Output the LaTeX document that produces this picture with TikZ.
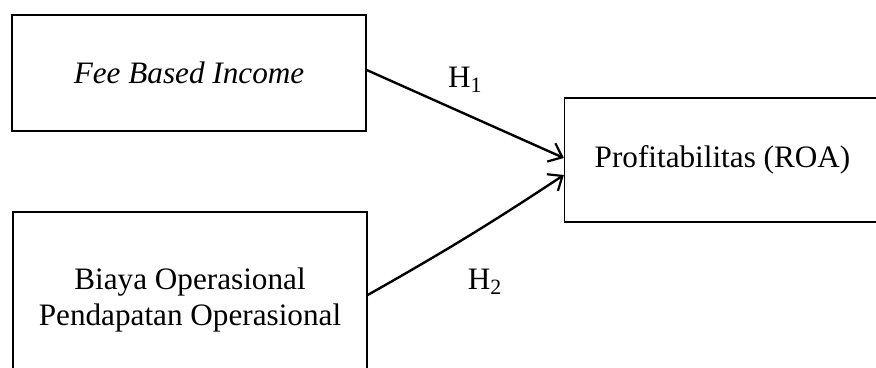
\documentclass[tikz,border=0pt]{standalone}
\usepackage{fontspec}
\setmainfont{Liberation Serif}
\usetikzlibrary{arrows.meta}
\tikzstyle{varbox} = [rectangle, draw=black, line width=0.65pt, text centered, inner sep=0pt, font=\fontsize{15.6}{18}\selectfont]
\tikzstyle{arrow} = [line width=1.2pt, -{Straight Barb[length=6pt, width=10pt, line width=1.1pt]}]
\tikzstyle{hyp} = [font=\fontsize{15.6}{18}\selectfont, inner sep=0pt]

\begin{document}
\begin{tikzpicture}[x=0.5pt, y=-0.5pt]
            \useasboundingbox (0,0) rectangle (876,368);
            \clip (0,0) rectangle (876,368);
            \node (fbi) [varbox, minimum width=177pt, minimum height=58pt] at (189,73) {\textit{Fee Based Income}};
            \node (bopo) [varbox, align=center, minimum width=177pt, minimum height=88pt] at (190,300) {Biaya Operasional\\Pendapatan Operasional};
            \node (roa) [varbox, minimum width=158pt, minimum height=62pt] at (722.5,160) {Profitabilitas (ROA)};

            \draw [arrow] ([yshift=1.5pt]fbi.east) -- node[hyp, yshift=17pt] {H\textsubscript{1}} ([yshift=1pt]roa.west);
            \draw [arrow] ([yshift=2.5pt]bopo.east) to[bend right=2] node[hyp, xshift=9pt, yshift=-22.5pt] {H\textsubscript{2}} ([yshift=-7.5pt]roa.west);
        \end{tikzpicture}
\end{document}
